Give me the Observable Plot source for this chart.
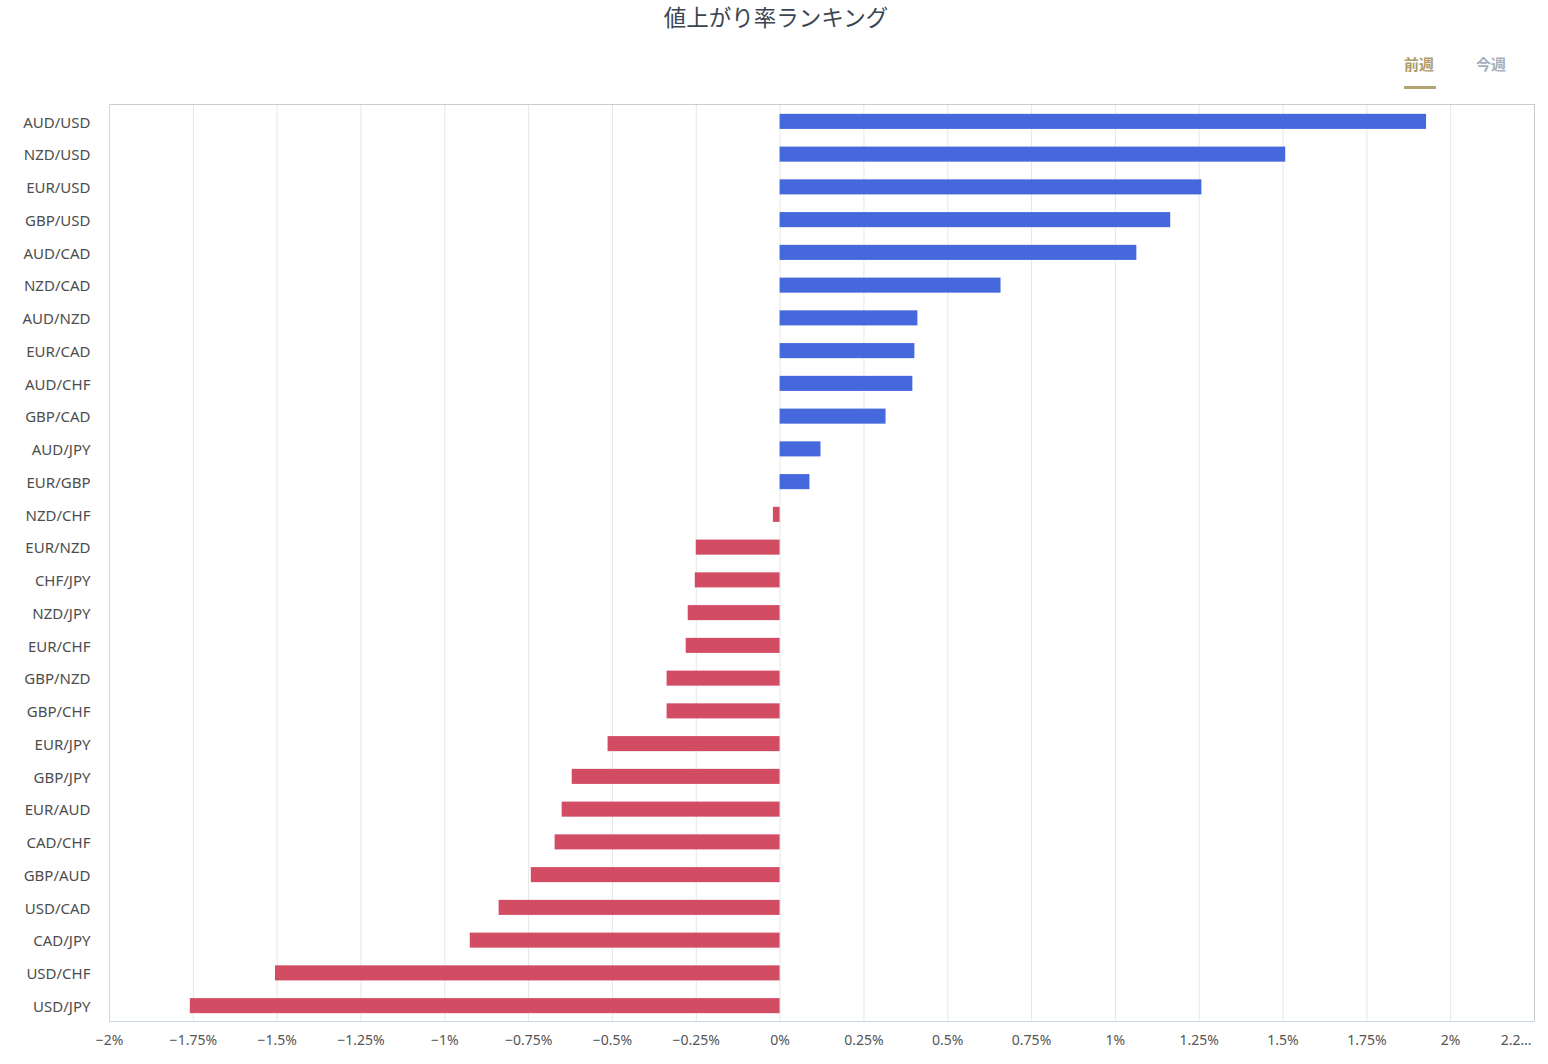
<!DOCTYPE html>
<html>
<head>
<meta charset="utf-8">
<script src="https://cdn.jsdelivr.net/npm/d3@7"></script>
<script src="https://cdn.jsdelivr.net/npm/@observablehq/plot@0.6"></script>
<style>
  html, body { margin: 0; padding: 0; background: #fff; }
  #wrap { position: relative; width: 1548px; height: 1064px; }
  #title { position: absolute; left: 2px; top: 0px; width: 1548px; text-align: center;
    font-family: "Noto Sans CJK JP", "Noto Sans", sans-serif; font-size: 22.5px; color: #3b4552; }
  .tab { position: absolute; top: 53px; font-family: "Noto Sans CJK JP", sans-serif;
    font-size: 15px; font-weight: bold; }
  #tab1 { left: 1404px; color: #ad9c6a; }
  #tab2 { left: 1476px; color: #a3afbd; }
  #uline { position: absolute; left: 1404px; top: 86px; width: 32px; height: 3px; background: #b3a474; }
  #chart { position: absolute; left: 0; top: 0; }
</style>
</head>
<body>
<div id="wrap">
  <div id="chart"></div>
  <div id="title">値上がり率ランキング</div>
  <div class="tab" id="tab1">前週</div>
  <div class="tab" id="tab2">今週</div>
  <div id="uline"></div>
</div>
<script>
const pairs = ["AUD/USD","NZD/USD","EUR/USD","GBP/USD","AUD/CAD","NZD/CAD","AUD/NZD","EUR/CAD","AUD/CHF","GBP/CAD","AUD/JPY","EUR/GBP","NZD/CHF","EUR/NZD","CHF/JPY","NZD/JPY","EUR/CHF","GBP/NZD","GBP/CHF","EUR/JPY","GBP/JPY","EUR/AUD","CAD/CHF","GBP/AUD","USD/CAD","CAD/JPY","USD/CHF","USD/JPY"];
const changes = [1.928,1.508,1.258,1.165,1.064,0.659,0.411,0.402,0.396,0.316,0.122,0.089,-0.02,-0.25,-0.253,-0.274,-0.28,-0.337,-0.337,-0.513,-0.62,-0.65,-0.671,-0.742,-0.838,-0.924,-1.505,-1.759];
const xTicks = [-2,-1.75,-1.5,-1.25,-1,-0.75,-0.5,-0.25,0,0.25,0.5,0.75,1,1.25,1.5,1.75,2];
const xMax = 2.25;
const lastTickLabel = "2.2…";

const data = pairs.map((p, i) => ({pair: p, value: changes[i]}));
const fmt = d => (d < 0 ? "\u2212" : "") + Math.abs(d) + "%";

const chart = Plot.plot({
  width: 1548,
  height: 1064,
  marginTop: 104,
  marginBottom: 43,
  marginLeft: 109,
  marginRight: 14,
  style: {fontFamily: "'Noto Sans', sans-serif", background: "transparent"},
  x: {domain: [-2, xMax]},
  y: {domain: pairs, paddingInner: 0.54, paddingOuter: 0.27, round: false},
  marks: [
    Plot.ruleX(xTicks, {stroke: "#e6e6e6", strokeWidth: 1}),
    Plot.barX(data, {x: "value", y: "pair", dy: 1, fill: d => d.value >= 0 ? "#4568dc" : "#d24c64", inset: 0}),
    Plot.frame({stroke: "#cccccc"}),
    Plot.frame({anchor: "left", stroke: "#ccd6eb"}),
    Plot.frame({anchor: "bottom", stroke: "#ccd6eb"}),
    Plot.axisY({tickSize: 0, tickPadding: 19, dy: 2, fontSize: 15, color: "#4d4d4d", label: null}),
    Plot.axisX({ticks: xTicks, tickFormat: fmt, tickSize: 0, tickPadding: 14, fontSize: 14, color: "#555", label: null}),
    Plot.text([xMax], {x: d => d, frameAnchor: "bottom", dy: 23, dx: -3, textAnchor: "end", text: () => lastTickLabel, fontSize: 14, fill: "#555"})
  ]
});
document.getElementById("chart").appendChild(chart);
</script>
</body>
</html>
